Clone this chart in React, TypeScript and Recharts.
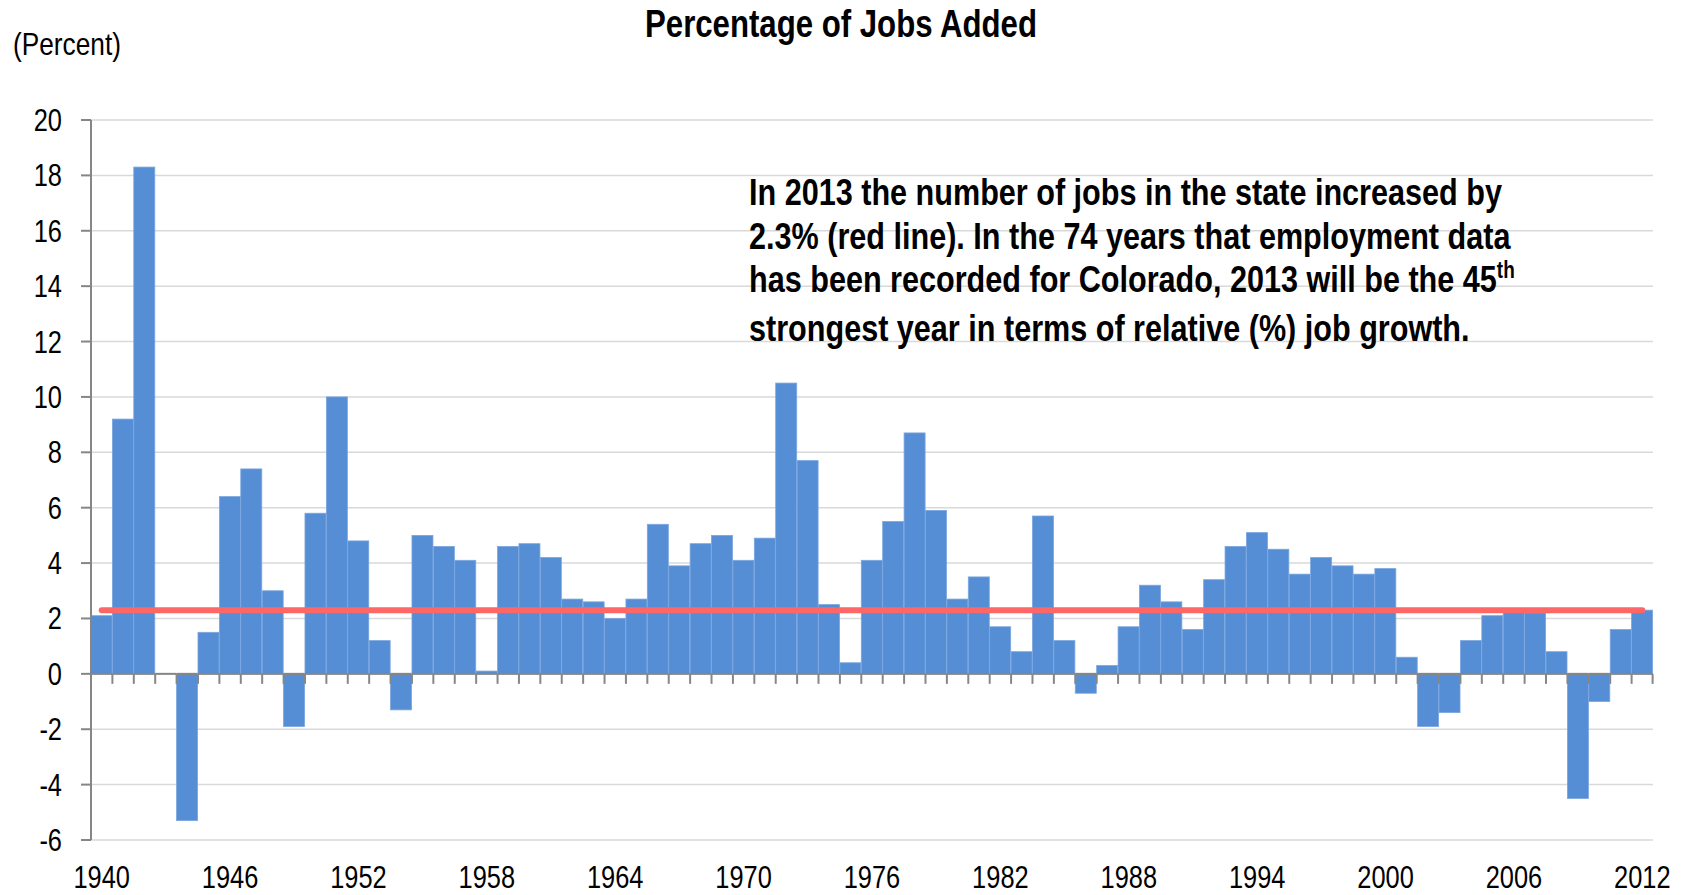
import React from 'react';
import { ComposedChart, Bar, Line, XAxis, YAxis, CartesianGrid } from 'recharts';

// Colorado annual job growth, 1940-2012 (percent)
const years = [
  '1940', '1941', '1942', '1943', '1944', '1945', '1946', '1947', '1948', '1949',
  '1950', '1951', '1952', '1953', '1954', '1955', '1956', '1957', '1958', '1959',
  '1960', '1961', '1962', '1963', '1964', '1965', '1966', '1967', '1968', '1969',
  '1970', '1971', '1972', '1973', '1974', '1975', '1976', '1977', '1978', '1979',
  '1980', '1981', '1982', '1983', '1984', '1985', '1986', '1987', '1988', '1989',
  '1990', '1991', '1992', '1993', '1994', '1995', '1996', '1997', '1998', '1999',
  '2000', '2001', '2002', '2003', '2004', '2005', '2006', '2007', '2008', '2009',
  '2010', '2011', '2012',
];

const jobGrowth = [
  2.1, 9.2, 18.3, 0.0, -5.3, 1.5, 6.4, 7.4, 3.0, -1.9,
  5.8, 10.0, 4.8, 1.2, -1.3, 5.0, 4.6, 4.1, 0.1, 4.6,
  4.7, 4.2, 2.7, 2.6, 2.0, 2.7, 5.4, 3.9, 4.7, 5.0,
  4.1, 4.9, 10.5, 7.7, 2.5, 0.4, 4.1, 5.5, 8.7, 5.9,
  2.7, 3.5, 1.7, 0.8, 5.7, 1.2, -0.7, 0.3, 1.7, 3.2,
  2.6, 1.6, 3.4, 4.6, 5.1, 4.5, 3.6, 4.2, 3.9, 3.6,
  3.8, 0.6, -1.9, -1.4, 1.2, 2.1, 2.3, 2.2, 0.8, -4.5,
  -1.0, 1.6, 2.3,
];

// 2013 growth, drawn as the red line
const growth2013 = 2.3;

const yTicks = [-6, -4, -2, 0, 2, 4, 6, 8, 10, 12, 14, 16, 18, 20];

const data = years.map((year, i) => ({ year, growth: jobGrowth[i], y2013: growth2013 }));

const AXIS_GRAY = '#868686';
const FONT = "'Liberation Sans', Arial, sans-serif";
// no narrow face installed, so squeeze the regular one
const SQUEEZE = 0.82;

// bar + the piece of zero axis (with its tick marks) beneath it
const BarWithAxis = (props: any) => {
  const { x, y, width, height, index } = props;
  const base = y + height;
  const top = Math.min(y, base);
  const h = Math.abs(height);
  return (
    <g>
      {h > 0 && <rect x={x} y={top} width={width} height={h} fill="#558ed5" stroke="#7aa5df" strokeWidth={0.8} />}
      <line x1={x} x2={x + width} y1={base} y2={base} stroke={AXIS_GRAY} strokeWidth={2} />
      <line x1={x} x2={x} y1={base} y2={base + 10} stroke={AXIS_GRAY} strokeWidth={2} />
      {index === years.length - 1 && (
        <line x1={x + width} x2={x + width} y1={base} y2={base + 10} stroke={AXIS_GRAY} strokeWidth={2} />
      )}
    </g>
  );
};

const YearTick = ({ x, y, payload }: any) => (
  <text
    transform={`translate(${x},${y}) scale(${SQUEEZE},1)`}
    textAnchor="middle"
    dy="0.71em"
    fontSize={31}
    fontFamily={FONT}
    fill="#000"
  >
    {payload.value}
  </text>
);

const PctTick = ({ x, y, payload }: any) => (
  <text
    transform={`translate(${x},${y}) scale(${SQUEEZE},1)`}
    textAnchor="end"
    dy="0.355em"
    fontSize={31}
    fontFamily={FONT}
    fill="#000"
  >
    {payload.value}
  </text>
);

export default function App() {
  return (
    <div style={{ position: 'absolute', left: 0, top: 0, width: 1689, height: 895, background: '#fff' }}>
      <ComposedChart
        width={1689}
        height={895}
        data={data}
        margin={{ top: 120, right: 36, bottom: 0, left: 0 }}
        barCategoryGap={0}
        barGap={0}
      >
        <CartesianGrid vertical={false} stroke="#d9d9d9" strokeWidth={1.5} />
        <XAxis
          dataKey="year"
          interval={5}
          axisLine={false}
          tickLine={false}
          tickSize={10}
          tickMargin={16}
          height={55}
          tick={<YearTick />}
        />
        <YAxis
          domain={[-6, 20]}
          ticks={yTicks}
          width={91}
          axisLine={{ stroke: AXIS_GRAY, strokeWidth: 2 }}
          tickLine={{ stroke: AXIS_GRAY, strokeWidth: 2 }}
          tickSize={10}
          tickMargin={19}
          tick={<PctTick />}
        />
        <Bar dataKey="growth" shape={BarWithAxis} isAnimationActive={false} />
        <Line
          dataKey="y2013"
          stroke="#ff6666"
          strokeWidth={6}
          strokeLinecap="round"
          dot={false}
          activeDot={false}
          isAnimationActive={false}
        />
      </ComposedChart>

      <div
        style={{
          position: 'absolute', left: 841, top: 2, transform: `translateX(-50%) scaleX(${SQUEEZE})`,
          transformOrigin: '50% 0', fontFamily: FONT, fontWeight: 'bold', fontSize: 38,
          lineHeight: '44px', whiteSpace: 'nowrap',
        }}
      >
        Percentage of Jobs Added
      </div>

      <div
        style={{
          position: 'absolute', left: 13, top: 26, fontFamily: FONT, fontSize: 32,
          lineHeight: '36px', whiteSpace: 'nowrap',
          transform: `scaleX(${SQUEEZE})`, transformOrigin: '0 0',
        }}
      >
        (Percent)
      </div>

      <div
        style={{
          position: 'absolute', left: 749, top: 171, fontFamily: FONT, fontWeight: 'bold',
          fontSize: 37.3, lineHeight: '43.6px', whiteSpace: 'nowrap',
          transform: `scaleX(${SQUEEZE})`, transformOrigin: '0 0',
        }}
      >
        <div>In 2013 the number of jobs in the state increased by</div>
        <div>2.3% (red line). In the 74 years that employment data</div>
        <div>
          has been recorded for Colorado, 2013 will be the 45
          <span style={{ fontSize: '0.62em', position: 'relative', top: '-0.62em' }}>th</span>
        </div>
        <div>strongest year in terms of relative (%) job growth.</div>
      </div>
    </div>
  );
}
